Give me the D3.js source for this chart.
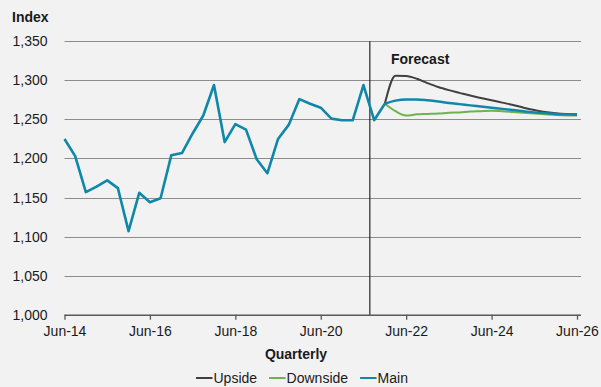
<!DOCTYPE html>
<html>
<head>
<meta charset="utf-8">
<script src="https://cdn.jsdelivr.net/npm/d3@7"></script>
<style>
  html, body { margin: 0; padding: 0; background: #f2f2f2; }
  svg { display: block; font-family: "Liberation Sans", Arial, sans-serif; }
</style>
</head>
<body>
<svg id="chart" width="601" height="387"></svg>
<script>
// Quarterly index, Jun-14 (index 0) through Jun-26 (index 48)
const mainValues = [
  1225, 1203, 1157, 1164, 1172, 1162, 1107, 1156, 1144, 1149,
  1204, 1207, 1232, 1255, 1294, 1221, 1244, 1237, 1199, 1181,
  1225, 1243, 1276, 1270, 1265, 1251, 1249, 1249, 1294, 1249,
  1270, 1274, 1275.5, 1275.5, 1274.5, 1273, 1271, 1269.5, 1268, 1266.5,
  1265, 1263.5, 1262, 1260.5, 1259, 1258, 1257, 1256.5, 1256
];
// Scenario paths start at the last shared quarter (index 30)
const forecastStart = 30;
const upsideValues = [
  1270, 1306, 1305.5, 1302, 1296.5, 1291.5, 1287.5, 1284, 1280.5, 1277.5,
  1274.5, 1271.5, 1268.5, 1265, 1262, 1259.5, 1258, 1257, 1256.5
];
const downsideValues = [
  1270, 1260.5, 1255, 1256.5, 1257, 1257.5, 1258.5, 1259, 1260, 1260.5,
  1261, 1260.5, 1259.5, 1258.5, 1257.5, 1256.5, 1255.5, 1255, 1255
];
// Forecast divider sits between Jun-21 and Sep-21
const forecastDivider = 28.6;

const xTickIndex = [0, 8, 16, 24, 32, 40, 48];
const xTickLabels = ["Jun-14", "Jun-16", "Jun-18", "Jun-20", "Jun-22", "Jun-24", "Jun-26"];
const yTicks = [1000, 1050, 1100, 1150, 1200, 1250, 1300, 1350];

const seriesNames = ["Upside", "Downside", "Main"];
const seriesColors = { Upside: "#404040", Downside: "#6db34b", Main: "#0f87a8" };

const svg = d3.select("#chart");
const plot = { left: 64.5, right: 581, top: 41.3, bottom: 314.7 };

const x = d3.scaleLinear().domain([0, 48]).range([plot.left, 577]);
const y = d3.scaleLinear().domain([1000, 1350]).range([plot.bottom, plot.top]);

// Horizontal gridlines
svg.append("g")
  .selectAll("line")
  .data(yTicks.slice(1))
  .join("line")
  .attr("x1", plot.left).attr("x2", plot.right)
  .attr("y1", d => Math.round(y(d)) + 0.5).attr("y2", d => Math.round(y(d)) + 0.5)
  .attr("stroke", "#8c8c8c").attr("stroke-width", 1);

// Y axis labels
const yAxis = d3.axisLeft(y).tickValues(yTicks).tickFormat(d3.format(",")).tickSize(0).tickPadding(17);
svg.append("g")
  .attr("transform", `translate(${plot.left},0)`)
  .call(yAxis)
  .call(g => g.select(".domain").remove())
  .call(g => g.selectAll("text").attr("font-size", 14).attr("fill", "#1a1a1a").attr("font-family", "Liberation Sans, Arial, sans-serif"));

// X axis
const xAxis = d3.axisBottom(x).tickValues(xTickIndex)
  .tickFormat((d, i) => xTickLabels[i]).tickSize(5).tickPadding(6).tickSizeOuter(0);
svg.append("g")
  .attr("transform", `translate(0,${plot.bottom})`)
  .call(xAxis)
  .call(g => g.select(".domain").attr("d", `M${plot.left},0.5H${plot.right}`).attr("stroke", "#595959").attr("stroke-width", 1.5))
  .call(g => g.selectAll(".tick line").attr("stroke", "#595959").attr("stroke-width", 1.3))
  .call(g => g.selectAll("text").attr("font-size", 14).attr("fill", "#1a1a1a").attr("font-family", "Liberation Sans, Arial, sans-serif"));

// Forecast divider
svg.append("line")
  .attr("x1", x(forecastDivider)).attr("x2", x(forecastDivider))
  .attr("y1", plot.top).attr("y2", plot.bottom)
  .attr("stroke", "#000").attr("stroke-width", 1);

svg.append("text")
  .attr("x", 391).attr("y", 64)
  .attr("font-size", 14).attr("font-weight", "bold").attr("fill", "#1a1a1a")
  .text("Forecast");

// Lines
const linear = d3.line().x(d => x(d.i)).y(d => y(d.v));
const smooth = d3.line().x(d => x(d.i)).y(d => y(d.v)).curve(d3.curveMonotoneX);

const toPoints = (vals, offset) => vals.map((v, k) => ({ i: k + offset, v }));

svg.append("path")
  .datum(toPoints(upsideValues, forecastStart))
  .attr("d", smooth)
  .attr("fill", "none").attr("stroke", seriesColors.Upside).attr("stroke-width", 2);

svg.append("path")
  .datum(toPoints(downsideValues, forecastStart))
  .attr("d", smooth)
  .attr("fill", "none").attr("stroke", seriesColors.Downside).attr("stroke-width", 2);

const mainPoints = toPoints(mainValues, 0);
svg.append("path")
  .datum(mainPoints.slice(0, forecastStart + 1))
  .attr("d", linear)
  .attr("fill", "none").attr("stroke", seriesColors.Main).attr("stroke-width", 2.6)
  .attr("stroke-linejoin", "round");
svg.append("path")
  .datum(mainPoints.slice(forecastStart))
  .attr("d", smooth)
  .attr("fill", "none").attr("stroke", seriesColors.Main).attr("stroke-width", 2.4);

// Titles
svg.append("text")
  .attr("x", 12).attr("y", 21.5)
  .attr("font-size", 14).attr("font-weight", "bold").attr("fill", "#1a1a1a")
  .text("Index");

svg.append("text")
  .attr("x", 296).attr("y", 358.5).attr("text-anchor", "middle")
  .attr("font-size", 14).attr("font-weight", "bold").attr("fill", "#1a1a1a")
  .text("Quarterly");

// Legend
const legend = svg.append("g").attr("transform", "translate(196,378)");
let lx = 0;
seriesNames.forEach(name => {
  const item = legend.append("g").attr("transform", `translate(${lx},0)`);
  item.append("line").attr("x1", 0).attr("x2", 16.5).attr("y1", 0).attr("y2", 0)
    .attr("stroke", seriesColors[name]).attr("stroke-width", 2);
  const t = item.append("text").attr("x", 17.5).attr("y", 5)
    .attr("font-size", 14).attr("fill", "#1a1a1a").text(name);
  lx += 17.5 + t.node().getComputedTextLength() + 12;
});
</script>
</body>
</html>
